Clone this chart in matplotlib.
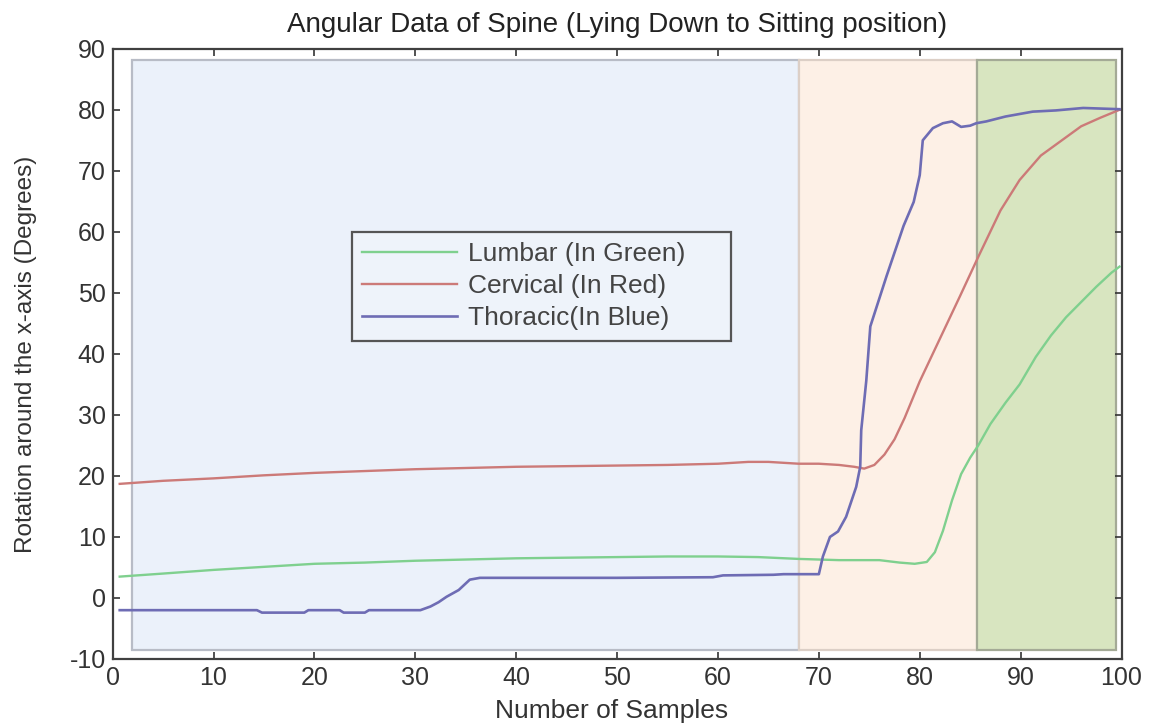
import matplotlib
matplotlib.use("Agg")
import matplotlib.pyplot as plt
from matplotlib.patches import Rectangle

plt.rcParams['font.family'] = ['Liberation Sans', 'DejaVu Sans']
plt.rcParams['axes.unicode_minus'] = False

# Lumbar segment (green)
lumbar_x = [0.7, 5, 10, 15, 20, 25, 30, 35, 40, 45, 50, 55, 60, 64, 68, 72, 76,
            78, 79.5, 80.7, 81.5, 82.3, 83.2, 84.1, 85, 85.8, 87, 88.5, 89.9,
            91.5, 93, 94.5, 96, 97.5, 99, 99.8]
lumbar_y = [3.5, 4.0, 4.6, 5.1, 5.6, 5.8, 6.1, 6.3, 6.5, 6.6, 6.7, 6.8, 6.8,
            6.7, 6.4, 6.2, 6.2, 5.8, 5.6, 5.9, 7.5, 11.0, 16.0, 20.3, 23.0,
            25.0, 28.5, 32.0, 35.0, 39.5, 43.0, 46.0, 48.5, 51.0, 53.3, 54.3]

# Cervical segment (red)
cervical_x = [0.7, 5, 10, 15, 20, 25, 30, 35, 40, 45, 50, 55, 60, 63, 65, 68,
              70, 72, 73.5, 74.5, 75.5, 76.5, 77.5, 78.5, 80, 82, 84, 85.8, 88,
              89.9, 92, 94.5, 96, 97.9, 99.8]
cervical_y = [18.7, 19.2, 19.6, 20.1, 20.5, 20.8, 21.1, 21.3, 21.5, 21.6, 21.7,
              21.8, 22.0, 22.3, 22.3, 22.0, 22.0, 21.8, 21.5, 21.2, 21.8, 23.5,
              26.0, 29.5, 35.5, 42.5, 49.5, 55.9, 63.5, 68.5, 72.5, 75.5, 77.3,
              78.7, 80.0]

# Thoracic segment (blue)
thoracic_x = [0.7, 14.3, 14.8, 19.0, 19.4, 22.5, 22.9, 25.0, 25.4, 30.5, 31.5,
              32.3, 33.1, 34.3, 35.4, 36.4, 40, 50, 59.5, 60.5, 65.5, 66.5, 70.0,
              70.4, 71.1, 71.9, 72.7, 73.7, 74.1, 74.2, 74.7, 75.1, 76.7, 78.4,
              79.4, 80.0, 80.3, 81.3, 82.3, 83.2, 84.1, 85.0, 85.6, 86.6, 88.5,
              91.2, 93.5, 96.2, 99.8]
thoracic_y = [-2.0, -2.0, -2.4, -2.4, -2.0, -2.0, -2.4, -2.4, -2.0, -2.0, -1.4,
              -0.7, 0.2, 1.3, 3.0, 3.3, 3.3, 3.3, 3.4, 3.7, 3.8, 3.9, 3.9, 6.8,
              10.0, 10.9, 13.3, 18.2, 21.5, 27.5, 35.6, 44.5, 52.7, 61.0, 64.9,
              69.3, 75.0, 77.0, 77.8, 78.1, 77.2, 77.4, 77.8, 78.1, 78.9, 79.7,
              79.9, 80.3, 80.1]

# Movement phases: (start, end) in samples
phase_spans = [(1.9, 68.05), (68.05, 85.7), (85.7, 99.5)]
phase_faces = ['#EBF1FA', '#FDF0E6', '#D8E5C0']
phase_edges = ['#B8BCC6', '#DCCFC6', '#A4AA96']
phase_bottom, phase_top = -8.6, 88.1

x_ticks = [0, 10, 20, 30, 40, 50, 60, 70, 80, 90, 100]
y_ticks = [-10, 0, 10, 20, 30, 40, 50, 60, 70, 80, 90]

fig = plt.figure(figsize=(11.53, 7.26), dpi=100)
ax = fig.add_axes([0.0977, 0.0923, 0.8750, 0.8405])

for (x0, x1), fc, ec in zip(phase_spans, phase_faces, phase_edges):
    ax.add_patch(Rectangle((x0, phase_bottom), x1 - x0, phase_top - phase_bottom,
                           facecolor=fc, edgecolor=ec, linewidth=1.6, zorder=1))

ax.plot(lumbar_x, lumbar_y, color='#7FD08E', lw=1.7, label='Lumbar (In Green)', zorder=3)
ax.plot(cervical_x, cervical_y, color='#CC7A78', lw=1.7, label='Cervical (In Red)', zorder=3)
ax.plot(thoracic_x, thoracic_y, color='#6E6CB4', lw=1.9, label='Thoracic(In Blue)', zorder=4)

ax.set_xlim(0, 100)
ax.set_ylim(-10, 90)
ax.set_xticks(x_ticks)
ax.set_yticks(y_ticks)
ax.tick_params(direction='in', length=5, width=1.2, top=True, right=True,
               labelsize=18, colors='#333333', pad=5)
for s in ax.spines.values():
    s.set_color('#404040')
    s.set_linewidth(1.6)

ax.set_title('Angular Data of Spine (Lying Down to Sitting position)',
             fontsize=20, color='#222222', pad=12)
ax.set_xlabel('Number of Samples', fontsize=19, color='#333333')
ax.xaxis.set_label_coords(0.495, -0.065)
ax.set_ylabel('Rotation around the x-axis (Degrees)', fontsize=17.5, color='#333333')
ax.yaxis.set_label_coords(-0.075, 0.5)

leg = ax.legend(loc='upper left', bbox_to_anchor=(23.7, 42.3, 37.6, 17.7),
                bbox_transform=ax.transData, mode='expand', fontsize=19,
                handlelength=3.6, handletextpad=0.4, labelspacing=0.3,
                borderpad=0.4, borderaxespad=0, fancybox=False,
                framealpha=1, facecolor='#EEF3FA', edgecolor='#555555')
leg.get_frame().set_linewidth(1.6)
for t in leg.get_texts():
    t.set_color('#444444')
leg.set_zorder(5)

fig.savefig('out.png', dpi=100, facecolor='white')
